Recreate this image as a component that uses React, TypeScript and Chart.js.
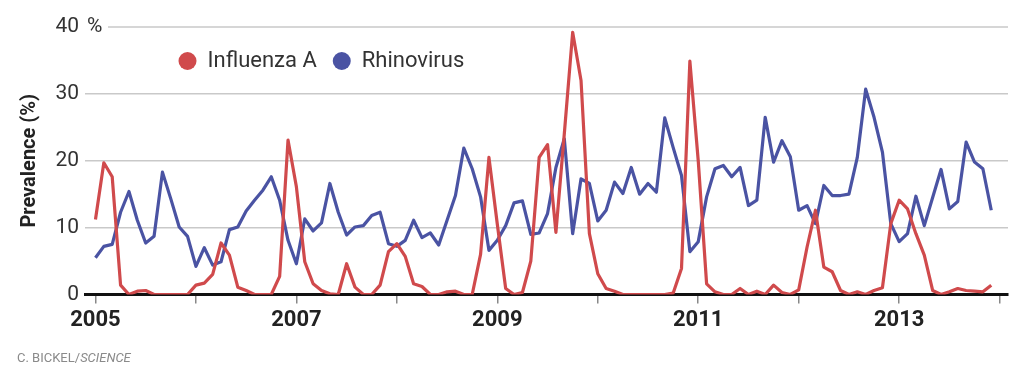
import React, { useEffect, useRef } from "react";
import { Chart, registerables } from "chart.js";

Chart.register(...registerables);

// Monthly observations, January 2005 to December 2013
const monthIndex: number[] = Array.from({ length: 108 }, (_, i) => i);

const influenzaA: number[] = [
  11.2, 19.7, 17.6, 1.4, 0, 0.5, 0.6, 0, 0, 0, 0, 0,
  1.4, 1.7, 3.0, 7.7, 5.9, 1.1, 0.6, 0, 0, 0, 2.7, 23.1,
  16.1, 4.9, 1.6, 0.6, 0.1, 0, 4.6, 1.1, 0, 0, 1.4, 6.4,
  7.6, 5.7, 1.6, 1.2, 0, 0, 0.4, 0.5, 0, 0, 6.0, 20.5,
  10.5, 0.9, 0, 0.3, 5.0, 20.5, 22.4, 9.3, 24.0, 39.2, 32.0, 9.1,
  3.1, 0.9, 0.5, 0, 0, 0, 0, 0, 0, 0.2, 3.9, 34.9,
  20.0, 1.6, 0.4, 0, 0, 0.9, 0, 0.5, 0, 1.4, 0.3, 0,
  0.7, 7.1, 12.6, 4.1, 3.4, 0.6, 0, 0.4, 0, 0.6, 1.0, 10.6,
  14.1, 12.8, 9.1, 5.9, 0.6, 0, 0.4, 0.9, 0.6, 0.5, 0.4, 1.4,
];

const rhinovirus: number[] = [
  5.5, 7.2, 7.5, 12.3, 15.4, 11.1, 7.7, 8.7, 18.3, 14.3, 10.1, 8.7,
  4.2, 7.0, 4.4, 4.9, 9.7, 10.1, 12.5, 14.1, 15.6, 17.6, 14.1, 8.1,
  4.6, 11.3, 9.5, 10.7, 16.6, 12.3, 8.9, 10.1, 10.3, 11.8, 12.3, 7.6,
  7.2, 8.1, 11.1, 8.5, 9.2, 7.4, 11.1, 14.8, 21.9, 18.8, 14.6, 6.6,
  8.1, 10.3, 13.7, 14.0, 9.0, 9.2, 12.1, 19.0, 23.3, 9.1, 17.3, 16.6,
  11.0, 12.6, 16.8, 15.1, 19.0, 15.0, 16.6, 15.3, 26.4, 22.0, 17.8, 6.4,
  7.9, 14.6, 18.8, 19.3, 17.6, 19.0, 13.3, 14.1, 26.5, 19.8, 23.0, 20.6,
  12.6, 13.3, 10.6, 16.3, 14.8, 14.8, 15.0, 20.5, 30.7, 26.5, 21.3, 10.6,
  7.9, 9.1, 14.7, 10.3, 14.5, 18.7, 12.8, 13.9, 22.8, 19.8, 18.8, 12.6,
];

const yearTicks: number[] = [2005, 2006, 2007, 2008, 2009, 2010, 2011, 2012, 2013, 2014];
const labeledYears: number[] = [2005, 2007, 2009, 2011, 2013];
const yTickValues: number[] = [0, 10, 20, 30, 40];
const seriesNames: string[] = ["Influenza A", "Rhinovirus"];

const RED = "#d04a4c";
const BLUE = "#4a53a3";
const GRID = "#c9c9c9";
const FONT = "Roboto, 'Noto Sans', sans-serif";

const extrasPlugin = {
  id: "extras",
  beforeDatasetsDraw(chart: any) {
    const { ctx, chartArea, scales } = chart;
    const y = scales.y.getPixelForValue(40);
    ctx.save();
    ctx.strokeStyle = GRID;
    ctx.lineWidth = 1.5;
    ctx.beginPath();
    ctx.moveTo(chartArea.left + 23, y);
    ctx.lineTo(chartArea.right, y);
    ctx.stroke();
    ctx.restore();
  },
  afterDraw(chart: any) {
    const { ctx, scales } = chart;
    const y40 = scales.y.getPixelForValue(40);
    ctx.save();
    ctx.font = `21px ${FONT}`;
    ctx.fillStyle = "#333";
    ctx.textAlign = "left";
    ctx.textBaseline = "middle";
    ctx.fillText("%", scales.y.right + 2, y40);

    // legend
    ctx.font = `22px ${FONT}`;
    const ly = 61;
    let cx = 187.5;
    const colors = [RED, BLUE];
    seriesNames.forEach((name, i) => {
      ctx.fillStyle = colors[i];
      ctx.beginPath();
      ctx.arc(cx, ly, 9, 0, Math.PI * 2);
      ctx.fill();
      ctx.fillStyle = "#333";
      ctx.textAlign = "left";
      ctx.textBaseline = "middle";
      const tx = cx + 20;
      ctx.fillText(name, tx, ly);
      const w = ctx.measureText(name).width;
      cx = tx + w + 25;
    });
    ctx.restore();
  },
};

export default function App() {
  const canvasRef = useRef<HTMLCanvasElement | null>(null);

  useEffect(() => {
    document.body.style.margin = "0";
    const canvas = canvasRef.current;
    if (!canvas) return;
    const chart = new Chart(canvas, {
      type: "line",
      data: {
        labels: monthIndex,
        datasets: [
          {
            label: seriesNames[0],
            data: monthIndex.map((m, i) => ({ x: m, y: influenzaA[i] })),
            borderColor: RED,
            borderWidth: 3.2,
            pointRadius: 0,
            tension: 0,
            borderJoinStyle: "round",
            fill: false,
          },
          {
            label: seriesNames[1],
            data: monthIndex.map((m, i) => ({ x: m, y: rhinovirus[i] })),
            borderColor: BLUE,
            borderWidth: 3.2,
            pointRadius: 0,
            tension: 0,
            borderJoinStyle: "round",
            fill: false,
          },
        ],
      },
      options: {
        responsive: false,
        animation: false,
        devicePixelRatio: 1,
        layout: { padding: { left: 0, right: 16, top: 27, bottom: 0 } },
        plugins: {
          legend: { display: false },
          tooltip: { enabled: false },
        },
        scales: {
          x: {
            type: "linear",
            min: -1.25,
            max: 109,
            afterFit: (scale: any) => {
              scale.height = 85.5;
            },
            afterBuildTicks: (scale: any) => {
              scale.ticks = yearTicks.map((yr) => ({ value: (yr - yearTicks[0]) * 12 }));
            },
            border: { display: true, color: "#111", width: 3 },
            grid: {
              drawOnChartArea: false,
              drawTicks: true,
              tickLength: 9,
              color: "#888",
              lineWidth: 1.5,
            },
            ticks: {
              autoSkip: false,
              maxRotation: 0,
              padding: 4,
              color: "#222",
              font: { family: FONT, size: 22, weight: "bold" },
              callback: (v: any) => {
                const yr = yearTicks[0] + Math.round(Number(v) / 12);
                return labeledYears.includes(yr) ? String(yr) : "";
              },
            },
          },
          y: {
            min: 0,
            max: 40,
            afterFit: (scale: any) => {
              scale.width = 85;
            },
            afterBuildTicks: (scale: any) => {
              scale.ticks = yTickValues.map((v) => ({ value: v }));
            },
            border: { display: false },
            grid: {
              drawTicks: false,
              color: (c: any) =>
                c.tick && (c.tick.value === 0 || c.tick.value === 40) ? "rgba(0,0,0,0)" : GRID,
              lineWidth: 1.5,
            },
            ticks: {
              padding: 6,
              color: "#333",
              font: { family: FONT, size: 21 },
            },
            title: {
              display: true,
              text: "Prevalence (%)",
              color: "#222",
              font: { family: FONT, size: 20, weight: "bold" },
              padding: { top: 18, bottom: 0 },
            },
          },
        },
      },
      plugins: [extrasPlugin],
    } as any);
    return () => chart.destroy();
  }, []);

  return (
    <div style={{ position: "relative", width: 1024, height: 380, overflow: "hidden" }}>
      <canvas ref={canvasRef} width={1024} height={380} style={{ display: "block" }} />
      <div
        style={{
          position: "absolute",
          left: 17,
          top: 350,
          fontFamily: FONT,
          fontSize: 13,
          lineHeight: "15px",
          color: "#8a8a8a",
          whiteSpace: "nowrap",
        }}
      >
        C. BICKEL/<i>SCIENCE</i>
      </div>
    </div>
  );
}
